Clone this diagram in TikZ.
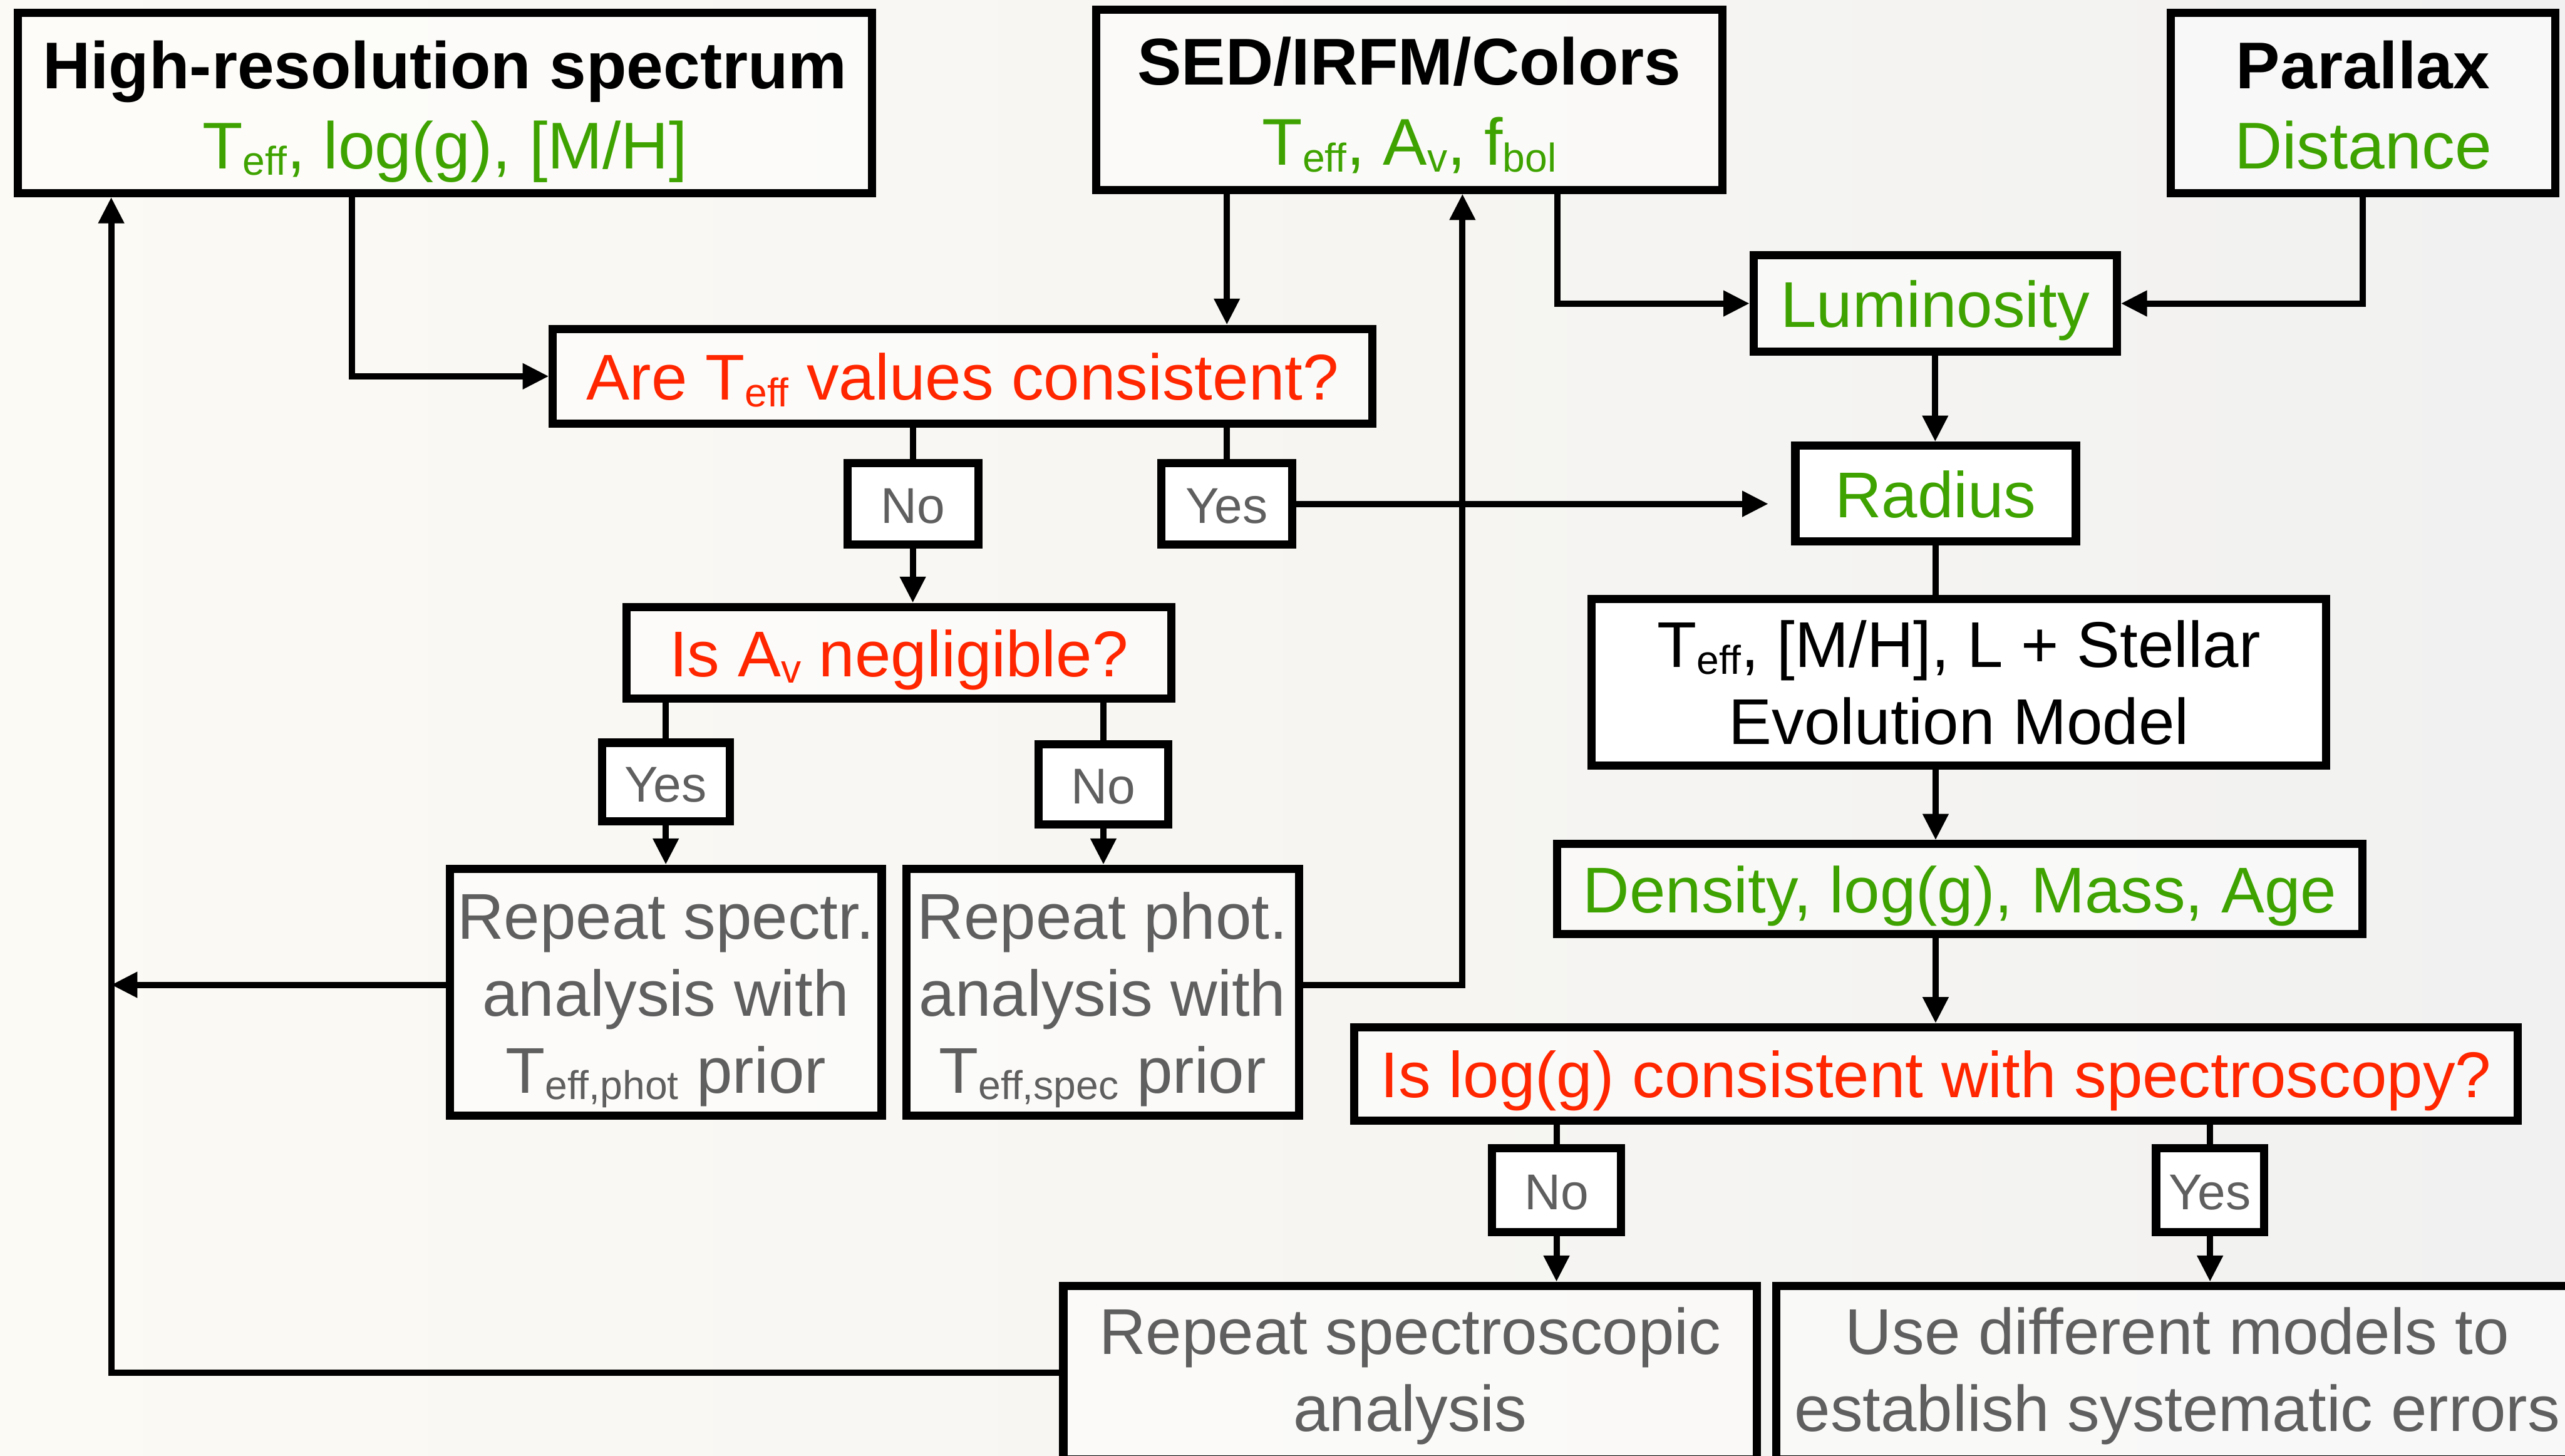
\documentclass[tikz,border=0pt]{standalone}
\usepackage{fontspec}
\setmainfont{Liberation Sans}
\usetikzlibrary{arrows.meta,calc}
\definecolor{grn}{RGB}{62,163,0}
\definecolor{rd}{RGB}{255,38,0}
\definecolor{gry}{RGB}{95,95,95}
\definecolor{bgl}{RGB}{252,250,244}
\definecolor{bgr}{RGB}{241,241,241}
\newcommand\subtxt[1]{\raisebox{-0.1em}{\fontsize{14}{14}\selectfont #1}}
\newcommand\fbig{\fontsize{23}{27}\selectfont}
\newcommand\fmain{\fontsize{22.5}{27}\selectfont}
\newcommand\flab{\fontsize{17.5}{21}\selectfont}
\begin{document}
\begin{tikzpicture}[x=0.02cm,y=-0.02cm,
  sz/.style 2 args={minimum width=#1*0.02cm, minimum height=#2*0.02cm},
  box/.style={draw=black, line width=0.1cm, fill=white, fill opacity=0.5, text opacity=1, inner sep=0pt},
  solid box/.style={box, fill opacity=1},
  one/.style={font=\fmain, text height=0.58cm, text depth=0pt},
  lab/.style={solid box, text=gry, font=\flab, text height=0.48cm, text depth=0pt},
  ttl/.style={font=\fbig\bfseries, inner sep=0pt, anchor=base},
  tgr/.style={font=\fbig, text=grn, inner sep=0pt, anchor=base},
  tline/.style={font=\fmain, inner sep=0pt, anchor=base},
  conn/.style={draw=black, line width=0.076cm},
  arr/.style={conn, -{Triangle[length=0.32cm,width=0.3cm]}}]
\path[use as bounding box] (0,0) rectangle (1568,890);
\clip (0,0) rectangle (1568,890);
\shade[left color=bgl, right color=bgr] (0,0) rectangle (1568,890);

% top row
\node[box, sz={522}{110}] (hr) at (272,63) {};
\node[ttl] (hr1) at (272,54) {High-resolution spectrum};
\node[tgr] (hr2) at (272,103) {T\subtxt{eff}, log(g), [M/H]};

\node[box, sz={383}{110}] (sed) at (861.5,61) {};
\node[ttl] (sed1) at (861.5,52) {SED/IRFM/Colors};
\node[tgr] (sed2) at (861.5,101) {T\subtxt{eff}, A\subtxt{v}, f\subtxt{bol}};

\node[box, sz={235}{110}] (par) at (1444.5,63) {};
\node[ttl] (par1) at (1444.5,54) {Parallax};
\node[tgr] (par2) at (1444.5,103) {Distance};

% right column
\node[box, sz={222}{59}, one, text=grn] (lum) at (1183,185.5) {Luminosity};
\node[solid box, sz={171.5}{58.5}, one, text=grn] (rad) at (1183.25,301.75) {Radius};
\node[solid box, sz={449}{102}] (tm) at (1197.5,417) {};
\node[tline] (tm1) at (1197.5,408) {T\subtxt{eff}, [M/H], L + Stellar};
\node[tline] (tm2) at (1197.5,455) {Evolution Model};
\node[box, sz={492}{55}, one, text=grn] (dens) at (1198,543.5) {Density, log(g), Mass, Age};
\node[box, sz={711}{57}, one, text=rd] (logg) at (1183.5,656.5) {Is log(g) consistent with spectroscopy?};
\node[lab, sz={79}{51}] (nol) at (951.5,727.5) {No};
\node[lab, sz={66}{51}] (yesl) at (1351,727.5) {Yes};
\node[box, sz={424}{106}] (rsa) at (862,839) {};
\node[tline, text=gry] (rsa1) at (862,828) {Repeat spectroscopic};
\node[tline, text=gry] (rsa2) at (862,875) {analysis};
\node[box, sz={490}{106}] (ud) at (1331,839) {};
\node[tline, text=gry] (ud1) at (1331,828) {Use different models to};
\node[tline, text=gry] (ud2) at (1331,875) {establish systematic errors};

% left part
\node[box, sz={501}{58}, one, text=rd] (are) at (588.5,230) {Are T\subtxt{eff} values consistent?};
\node[lab, sz={80}{50}] (no1) at (558,308) {No};
\node[lab, sz={80}{50}] (yes1) at (750,308) {Yes};
\node[box, sz={333}{56}, one, text=rd] (isav) at (549.5,399) {Is A\subtxt{v} negligible?};
\node[lab, sz={78}{48}] (yesa) at (407,478) {Yes};
\node[lab, sz={79}{49}] (noa) at (674.5,479.5) {No};
\node[box, sz={264}{151}] (repspec) at (407,606.5) {};
\node[tline, text=gry] (rs1) at (407,574) {Repeat spectr.};
\node[tline, text=gry] (rs2) at (407,621) {analysis with};
\node[tline, text=gry] (rs3) at (407,668) {T\subtxt{eff,phot} prior};
\node[box, sz={240}{151}] (repphot) at (674,606.5) {};
\node[tline, text=gry] (rp1) at (674,574) {Repeat phot.};
\node[tline, text=gry] (rp2) at (674,621) {analysis with};
\node[tline, text=gry] (rp3) at (674,668) {T\subtxt{eff,spec} prior};

% helper coordinates
\coordinate (lx) at (68,837);
\coordinate (ux) at (894,602);
\coordinate (sx) at (952,185);

% connectors
\draw[arr] ($(hr.south)+(-57,0)$) |- (are.west);
\draw[arr] (yes1 |- sed.south) -- (yes1 |- are.north);
\draw[conn] (are.south -| no1) -- (no1.north);
\draw[conn] (are.south -| yes1) -- (yes1.north);
\draw[arr] (no1.south) -- (no1.south |- isav.north);
\draw[arr, shorten >=0.28cm] (yes1.east) -- (yes1.east -| rad.west);
\draw[conn] (isav.south -| yesa) -- (yesa.north);
\draw[conn] (isav.south -| noa) -- (noa.north);
\draw[arr] (yesa.south) -- (yesa.south |- repspec.north);
\draw[arr] (noa.south) -- (noa.south |- repphot.north);
\draw[arr] (repspec.west |- ux) -- (lx |- ux);
\draw[arr] (repphot.east |- ux) -- (ux) -- (ux |- sed.south);
\draw[arr] (rsa.west) -- (rsa.west -| lx) -- (lx |- hr.south);
\draw[arr] (sx |- sed.south) -- (sx |- lum.west) -- (lum.west);
\draw[arr] (par.south) |- (lum.east);
\draw[arr] (lum.south) -- (lum.south |- rad.north);
\draw[conn] (rad.south) -- (rad.south |- tm.north);
\draw[arr] (rad.south |- tm.south) -- (rad.south |- dens.north);
\draw[arr] (rad.south |- dens.south) -- (rad.south |- logg.north);
\draw[conn] (logg.south -| nol) -- (nol.north);
\draw[conn] (logg.south -| yesl) -- (yesl.north);
\draw[arr] (nol.south) -- (nol.south |- rsa.north);
\draw[arr] (yesl.south) -- (yesl.south |- ud.north);
\end{tikzpicture}
\end{document}
